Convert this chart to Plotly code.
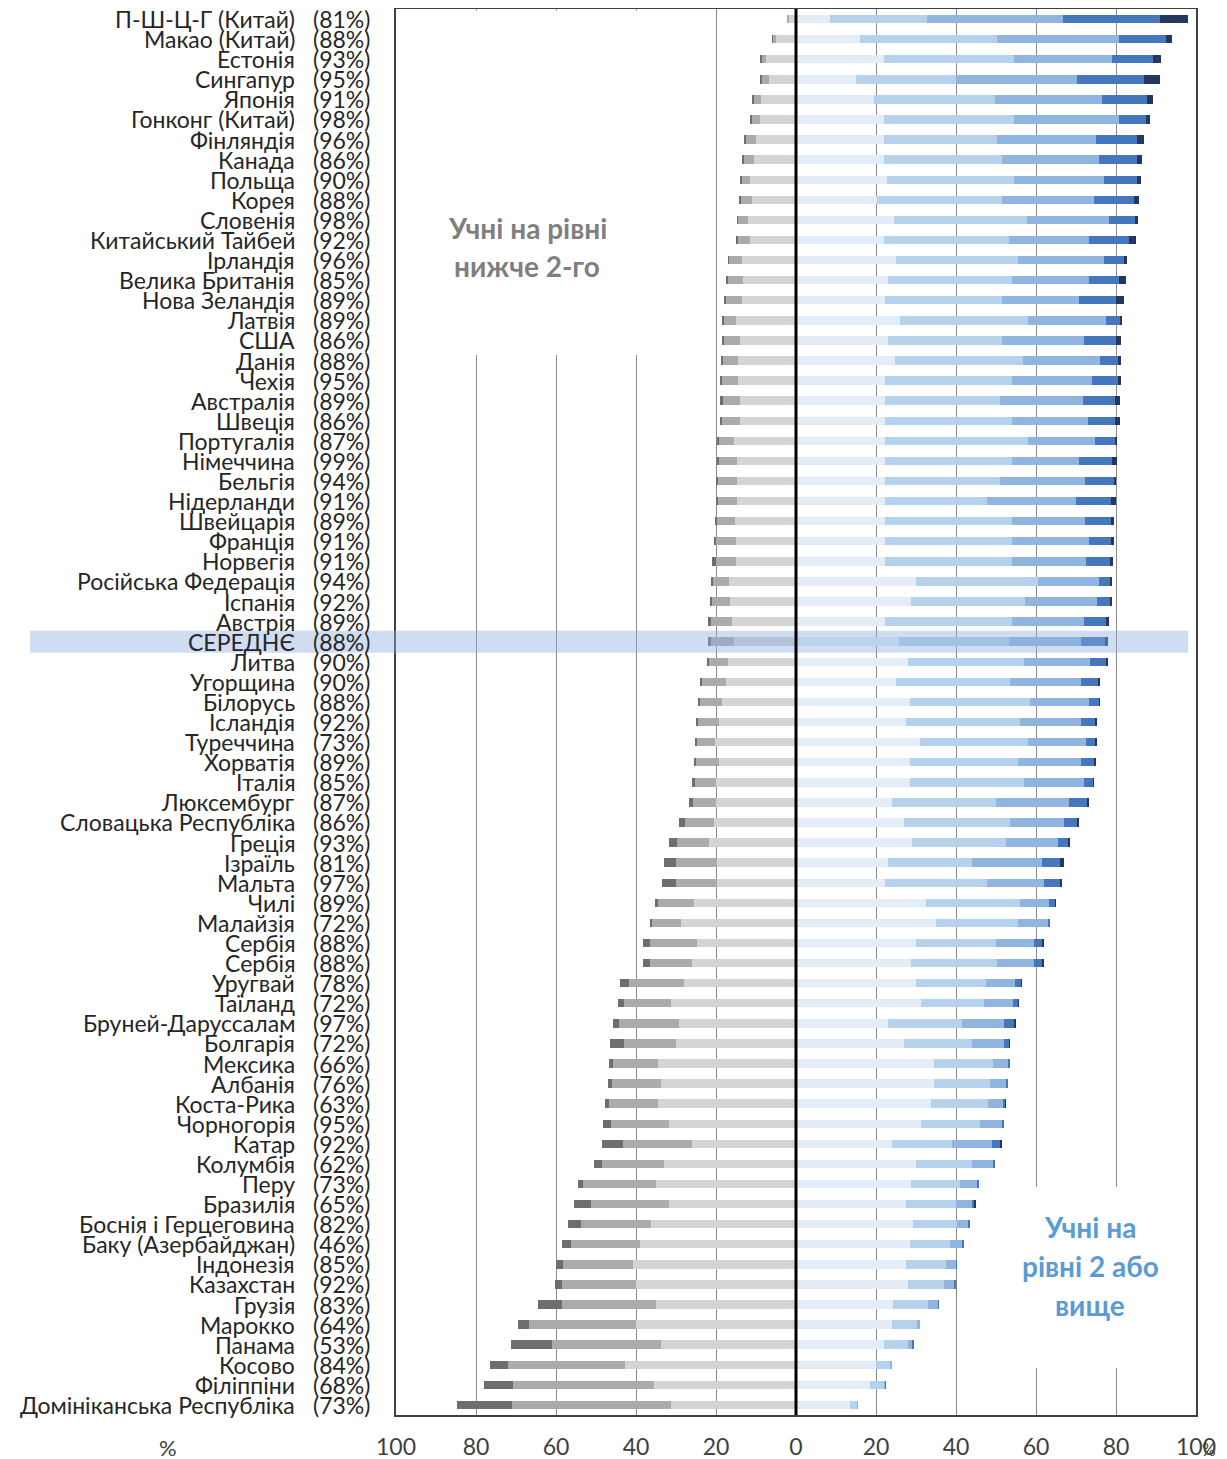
import plotly.graph_objects as go

countries = ["П-Ш-Ц-Г (Китай)", "Макао (Китай)", "Естонія", "Сингапур", "Японія", "Гонконг (Китай)",
             "Фінляндія", "Канада", "Польща", "Корея", "Словенія", "Китайський Тайбей", "Ірландія",
             "Велика Британія", "Нова Зеландія", "Латвія", "США", "Данія", "Чехія", "Австралія", "Швеція",
             "Португалія", "Німеччина", "Бельгія", "Нідерланди", "Швейцарія", "Франція", "Норвегія",
             "Російська Федерація", "Іспанія", "Австрія", "СЕРЕДНЄ", "Литва", "Угорщина", "Білорусь",
             "Ісландія", "Туреччина", "Хорватія", "Італія", "Люксембург", "Словацька Республіка", "Греція",
             "Ізраїль", "Мальта", "Чилі", "Малайзія", "Сербія", "Сербія", "Уругвай", "Таїланд",
             "Бруней-Даруссалам", "Болгарія", "Мексика", "Албанія", "Коста-Рика", "Чорногорія", "Катар",
             "Колумбія", "Перу", "Бразилія", "Боснія і Герцеговина", "Баку (Азербайджан)", "Індонезія",
             "Казахстан", "Грузія", "Марокко", "Панама", "Косово", "Філіппіни", "Домініканська Республіка"]

coverage = [81, 88, 93, 95, 91, 98, 96, 86, 90, 88, 98, 92, 96, 85, 89, 89, 86, 88, 95, 89, 86, 87, 99, 94,
            91, 89, 91, 91, 94, 92, 89, 88, 90, 90, 88, 92, 73, 89, 85, 87, 86, 93, 81, 97, 89, 72, 88, 88,
            78, 72, 97, 72, 66, 76, 63, 95, 92, 62, 73, 65, 82, 46, 85, 92, 83, 64, 53, 84, 68, 73]

below_1b = [0.0, 0.1, 0.1, 0.3, 0.2, 0.4, 0.4, 0.3, 0.1, 0.4, 0.1, 0.4, 0.2, 0.3, 0.4, 0.2, 0.5, 0.4, 0.3, 0.6,
            0.6, 0.2, 0.5, 0.5, 0.6, 0.5, 0.6, 0.8, 0.3, 0.3, 0.6, 0.7, 0.5, 0.6, 0.4, 0.5, 0.3, 0.5, 0.7, 1.0,
            1.5, 1.9, 3.2, 3.4, 0.8, 0.6, 1.8, 1.8, 2.2, 1.5, 1.5, 3.4, 1.0, 1.0, 1.1, 1.9, 5.1, 1.9, 1.3, 4.1,
            3.2, 2.2, 1.7, 1.7, 5.9, 2.6, 10.2, 4.5, 7.3, 13.8]
level_1b = [0.2, 0.8, 1.3, 1.9, 1.9, 2.3, 2.6, 2.6, 2.2, 2.9, 2.6, 3.3, 3.3, 3.8, 4.0, 3.3, 4.2, 3.7, 3.9, 4.3,
            4.3, 3.8, 4.5, 4.7, 4.7, 4.5, 4.9, 5.0, 4.1, 4.5, 5.2, 5.8, 4.8, 6.1, 5.5, 5.3, 4.7, 5.7, 5.2, 5.8,
            7.3, 8.0, 10.2, 10.4, 9.0, 7.2, 11.7, 10.4, 13.7, 11.8, 14.9, 13.2, 11.4, 12.2, 12.3, 14.5, 17.2,
            15.4, 18.2, 19.5, 17.4, 17.3, 17.5, 18.5, 23.5, 26.7, 27.3, 29.3, 35.3, 39.8]
level_1a = [1.9, 5.1, 7.4, 6.8, 8.7, 8.9, 9.9, 10.5, 11.5, 10.9, 11.9, 11.4, 13.5, 13.3, 13.6, 14.9, 13.9, 14.6,
            14.6, 14.0, 14.1, 15.6, 14.8, 14.8, 14.7, 15.2, 15.0, 15.1, 16.8, 16.5, 16.1, 15.5, 16.9, 17.4, 18.5,
            19.2, 20.2, 19.2, 20.0, 20.0, 20.5, 21.8, 19.7, 19.7, 25.5, 28.7, 24.8, 26.1, 28.0, 31.2, 29.3, 29.9,
            34.4, 33.8, 34.4, 31.8, 26.1, 33.1, 35.0, 31.8, 36.3, 38.9, 40.8, 40.1, 35.0, 40.1, 33.8, 42.7, 35.4,
            31.2]
level_2 = [8.6, 16.1, 21.9, 15.0, 19.4, 21.9, 21.9, 21.9, 22.7, 20.3, 24.4, 21.9, 25.0, 23.0, 22.3, 26.0, 23.0,
           24.8, 22.3, 22.3, 22.3, 22.3, 22.3, 22.3, 22.3, 22.3, 22.3, 22.3, 30.0, 28.7, 22.3, 25.8, 28.0, 25.0,
           28.5, 27.5, 31.0, 28.5, 28.5, 24.0, 27.0, 29.0, 23.0, 22.3, 32.5, 35.0, 30.0, 28.7, 30.0, 31.2, 23.0,
           27.0, 34.4, 34.4, 33.8, 31.2, 24.0, 30.0, 28.7, 27.5, 29.3, 28.5, 27.5, 28.0, 24.2, 24.0, 22.0, 20.0,
           18.5, 13.5]
level_3 = [24.1, 34.2, 32.5, 25.0, 30.4, 32.5, 28.3, 29.6, 31.7, 31.2, 33.4, 31.3, 30.6, 31.1, 29.3, 32.0, 28.6,
           31.9, 31.8, 28.7, 31.8, 35.7, 31.8, 28.7, 25.5, 31.8, 31.8, 31.8, 30.5, 28.6, 31.8, 27.4, 29.0, 28.5,
           30.0, 28.5, 27.0, 27.0, 28.5, 26.0, 26.5, 23.5, 21.0, 25.5, 23.5, 20.4, 20.0, 21.6, 17.5, 15.8, 18.5,
           17.0, 14.8, 14.1, 14.2, 14.8, 15.0, 14.0, 12.3, 12.5, 10.9, 10.0, 10.0, 9.0, 8.8, 6.3, 6.0, 3.5, 3.5,
           1.8]
level_4 = [34.0, 30.4, 24.6, 30.3, 26.7, 26.3, 24.8, 24.2, 22.6, 23.0, 20.5, 20.0, 21.4, 19.1, 19.1, 19.6, 20.4,
           19.3, 19.8, 20.7, 18.9, 16.8, 16.6, 21.2, 22.2, 18.1, 19.1, 18.5, 15.3, 17.9, 17.9, 18.1, 16.5, 17.8,
           14.7, 15.3, 14.6, 15.8, 15.0, 18.2, 13.4, 13.1, 17.5, 14.2, 7.2, 7.6, 9.5, 9.2, 7.3, 7.3, 10.5, 7.9,
           3.9, 4.2, 3.8, 5.4, 10.0, 5.2, 4.4, 4.0, 3.0, 3.1, 2.5, 2.6, 2.5, 0.7, 1.2, 0.3, 0.4, 0.2]
level_5 = [24.4, 11.8, 10.3, 16.8, 11.2, 6.9, 10.3, 9.5, 8.2, 9.9, 6.5, 10.0, 5.1, 7.6, 9.3, 3.6, 8.0, 4.6,
           6.5, 8.1, 6.8, 5.0, 8.3, 7.2, 8.7, 6.6, 5.6, 5.8, 2.9, 3.5, 5.6, 5.9, 4.0, 4.3, 2.6, 3.6, 2.3, 3.2,
           2.3, 4.5, 3.4, 2.4, 4.5, 3.9, 1.6, 0.4, 2.0, 2.0, 1.5, 1.3, 2.5, 1.4, 0.3, 0.4, 0.6, 0.6, 2.2, 0.5,
           0.2, 0.7, 0.1, 0.4, 0.1, 0.3, 0.2, 0.0, 0.1, 0.0, 0.1, 0.0]
level_6 = [6.9, 1.5, 1.9, 3.9, 1.5, 0.8, 1.8, 1.4, 1.0, 1.4, 0.6, 1.7, 0.7, 1.6, 1.9, 0.3, 1.3, 0.7, 0.8, 1.3,
           1.2, 0.4, 1.2, 0.6, 1.3, 0.8, 0.6, 0.8, 0.3, 0.3, 0.7, 0.8, 0.4, 0.4, 0.2, 0.3, 0.2, 0.3, 0.2, 0.5,
           0.4, 0.3, 0.9, 0.7, 0.2, 0.0, 0.3, 0.3, 0.1, 0.1, 0.3, 0.2, 0.0, 0.0, 0.1, 0.0, 0.4, 0.0, 0.0, 0.1,
           0.0, 0.0, 0.0, 0.0, 0.0, 0.0, 0.0, 0.0, 0.0, 0.0]

x_ticks = [-100, -80, -60, -40, -20, 0, 20, 40, 60, 80, 100]
average_label = "СЕРЕДНЄ"

# The page body has an 8px default margin, so the figure is sized and placed to compensate.
PAGE_OFF = 8
W, H = 1227 - PAGE_OFF, 1459 - PAGE_OFF
PLOT_L, PLOT_R, PLOT_T, PLOT_B = 396, 1196, 9, 1415   # target plot box in screen pixels
ML = PLOT_L - PAGE_OFF
MT = PLOT_T - PAGE_OFF
MR = (PAGE_OFF + W) - PLOT_R
MB = (PAGE_OFF + H) - PLOT_B
PW, PH = PLOT_R - PLOT_L, PLOT_B - PLOT_T


def px_x(px):
    return (px - PLOT_L) / PW


def px_y(py):
    return 1 - (py - PLOT_T) / PH


rows = list(range(len(countries)))
fig = go.Figure()

left_series = [(level_1a, "#d4d4d4"), (level_1b, "#ababab"), (below_1b, "#6e6e6e")]
right_series = [(level_2, "#e3ecf7"), (level_3, "#b6d1eb"), (level_4, "#90b6df"),
                (level_5, "#4677bd"), (level_6, "#24375f")]

for vals, col in left_series:
    fig.add_trace(go.Bar(x=[-v for v in vals], y=rows, orientation="h", marker_color=col,
                         marker_line_width=0, width=0.42, showlegend=False, hoverinfo="skip"))
for vals, col in right_series:
    fig.add_trace(go.Bar(x=vals, y=rows, orientation="h", marker_color=col,
                         marker_line_width=0, width=0.42, showlegend=False, hoverinfo="skip"))

label_font = dict(family="Lato, 'Open Sans', sans-serif", size=23, color="#262626")
annotations = []
for i, (name, cov) in enumerate(zip(countries, coverage)):
    annotations.append(dict(xref="paper", yref="y", x=px_x(297), y=i, text=name, xanchor="right",
                            yanchor="middle", showarrow=False, font=label_font))
    annotations.append(dict(xref="paper", yref="y", x=px_x(311), y=i, text=f"({cov}%)", xanchor="left",
                            yanchor="middle", showarrow=False, font=label_font))

note_font_gray = dict(family="Lato, sans-serif", size=28, color="#7f7f7f")
note_font_blue = dict(family="Lato, sans-serif", size=28, color="#5b9bd5")
for txt, cx, cy, f in [("Учні на рівні", 527, 228, note_font_gray), ("нижче 2-го", 527, 266, note_font_gray),
                       ("Учні на", 1090, 1227, note_font_blue), ("рівні 2 або", 1090, 1266, note_font_blue),
                       ("вище", 1090, 1305, note_font_blue)]:
    annotations.append(dict(xref="paper", yref="paper", x=px_x(cx), y=px_y(cy), text=f"<b>{txt}</b>",
                            xanchor="center", yanchor="middle", showarrow=False, font=f))

pct_font = dict(family="Lato, sans-serif", size=22, color="#404040")
annotations.append(dict(xref="paper", yref="paper", x=px_x(168), y=px_y(1447), text="%", showarrow=False,
                        xanchor="center", yanchor="middle", font=pct_font))
annotations.append(dict(xref="paper", yref="paper", x=px_x(1209), y=px_y(1450), text="%", showarrow=False,
                        xanchor="center", yanchor="middle", font=dict(family="Lato, sans-serif", size=17,
                                                                      color="#404040")))

avg_idx = countries.index(average_label)
shapes = [
    dict(type="rect", xref="paper", yref="paper", x0=px_x(398), x1=px_x(700), y0=px_y(355), y1=px_y(10.5),
         fillcolor="white", line_width=0, layer="above"),
    dict(type="rect", xref="paper", yref="paper", x0=px_x(1000), x1=px_x(1180), y0=px_y(1368), y1=px_y(1187),
         fillcolor="white", line_width=0, layer="above"),
    dict(type="rect", xref="paper", yref="y", x0=px_x(30), x1=px_x(1188), y0=avg_idx - 0.55,
         y1=avg_idx + 0.55, fillcolor="rgba(140,175,225,0.42)", line_width=0, layer="above"),
    dict(type="line", xref="x", yref="paper", x0=0, x1=0, y0=0, y1=1,
         line=dict(color="black", width=3), layer="above"),
]

fig.update_layout(
    width=W, height=H, margin=dict(l=ML, r=MR, t=MT, b=MB, pad=0, autoexpand=False),
    barmode="relative", bargap=0, plot_bgcolor="white", paper_bgcolor="white",
    showlegend=False, annotations=annotations, shapes=shapes,
    xaxis=dict(range=[-100, 100], tickvals=x_ticks, ticktext=[str(abs(v)) for v in x_ticks],
               showgrid=True, gridcolor="#8a8a8a", gridwidth=1, zeroline=False, automargin=False,
               showline=True, linecolor="#404040", linewidth=1.5, mirror=True, ticks="",
               tickfont=dict(family="Lato, sans-serif", size=23, color="#404040"), ticklabelstandoff=11),
    yaxis=dict(range=[len(countries) - 0.5, -0.5], showticklabels=False, showgrid=False, zeroline=False,
               automargin=False, showline=True, linecolor="#404040", linewidth=1.5, mirror=True, ticks=""),
)

fig.write_html("out.html")
